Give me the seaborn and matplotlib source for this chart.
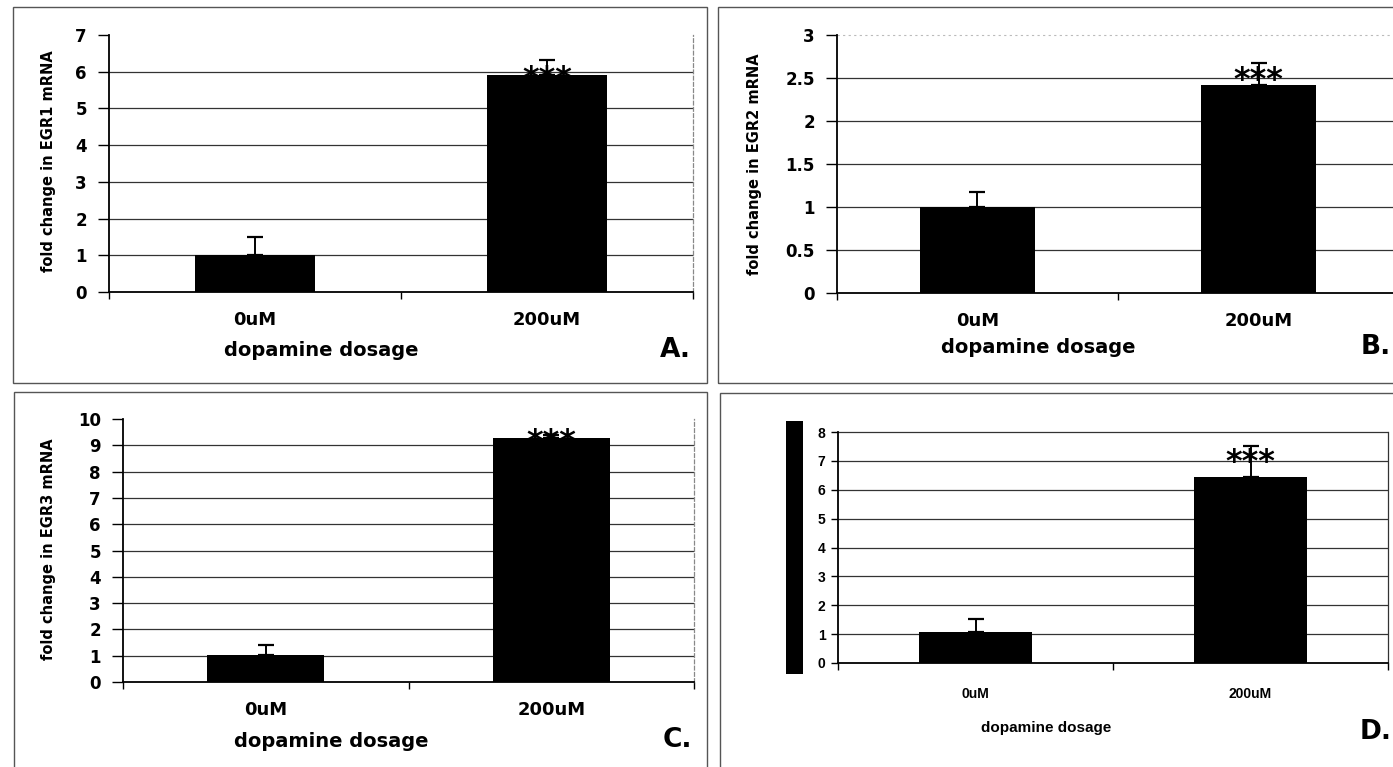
import numpy as np
import pandas as pd
import matplotlib
matplotlib.use("Agg")
import matplotlib.pyplot as plt
import matplotlib.transforms as mtransforms
from matplotlib.patches import Rectangle
import seaborn as sns

# ---------------- data ----------------
categories = ["0uM", "200uM"]

egr1_fold = [1.00, 5.92]
egr1_err = [0.50, 0.40]

egr2_fold = [1.00, 2.42]
egr2_err = [0.17, 0.26]

egr3_fold = [1.04, 9.28]
egr3_err = [0.35, 0.12]

paneld_fold = [1.07, 6.43]
paneld_err = [0.47, 1.10]

egr1_ticks = [0, 1, 2, 3, 4, 5, 6, 7]
egr2_ticks = [0, 0.5, 1, 1.5, 2, 2.5, 3]
egr2_ticklabels = ["0", "0.5", "1", "1.5", "2", "2.5", "3"]
egr3_ticks = [0, 1, 2, 3, 4, 5, 6, 7, 8, 9, 10]
paneld_ticks = [0, 1, 2, 3, 4, 5, 6, 7, 8]

ylabels = ["fold change in EGR1 mRNA", "fold change in EGR2 mRNA",
           "fold change in EGR3 mRNA", ""]
xlabel_text = "dopamine dosage"
signif = "***"
panel_letters = ["A.", "B.", "C.", "D."]

# ---------------- style ----------------
sns.set_theme(style="white")
plt.rcParams["font.family"] = ["DejaVu Sans"]
plt.rcParams["font.weight"] = "bold"

W, H = 1393, 767
fig = plt.figure(figsize=(W / 100, H / 100), dpi=100)


def frac_rect(x0, y0, x1, y1):
    return [x0 / W, 1 - y1 / H, (x1 - x0) / W, (y1 - y0) / H]


def draw_panel(rect, vals, errs, ticks, ticklabels, ylabel, cfg):
    ax = fig.add_axes(frac_rect(*rect))
    df = pd.DataFrame({"dose": categories, "fold": vals})
    sns.barplot(data=df, x="dose", y="fold", color="black", saturation=1,
                width=0.41, errorbar=None, ax=ax, zorder=2,
                edgecolor="black", linewidth=0)
    ax.errorbar(np.arange(len(vals)), vals,
                yerr=[np.zeros(len(errs)), errs], fmt="none",
                ecolor="black", elinewidth=1.4, capsize=cfg["cap"],
                capthick=1.6, zorder=3)
    ax.set_xlim(-0.5, 1.5)
    ax.set_ylim(ticks[0], ticks[-1])
    ax.set_yticks(ticks)
    ax.set_yticklabels(ticklabels)
    # gridlines
    grid_vals = ticks[1:-1] if not cfg["top_grid"] else ticks[1:]
    ax.hlines(grid_vals, -0.5, 1.5, colors="#333333", lw=0.9, zorder=1,
              clip_on=False)
    if cfg.get("faint_top"):
        ax.hlines([ticks[-1]], -0.5, 1.5, colors="#bbbbbb", lw=0.8,
                  linestyles=(0, (2, 3)), zorder=1, clip_on=False)
    for s in ["left", "bottom"]:
        ax.spines[s].set_visible(True)
        ax.spines[s].set_color("black")
        ax.spines[s].set_linewidth(1.3)
    ax.spines["top"].set_visible(False)
    ax.spines["right"].set_visible(True)
    ax.spines["right"].set_color(cfg["right_color"])
    ax.spines["right"].set_linewidth(0.9)
    ax.spines["right"].set_linestyle(cfg["right_ls"])
    ax.tick_params(axis="y", which="major", direction="out", length=cfg["ytl"],
                   width=1, color="black", pad=cfg["ypad"], left=True,
                   labelsize=cfg["yfs"], labelcolor="black")
    ax.tick_params(axis="x", which="major", length=0, pad=cfg["xpad"],
                   labelsize=cfg["xfs"], labelcolor="black")
    ax.set_xticks([-0.5, 0.5, 1.5], minor=True)
    ax.tick_params(axis="x", which="minor", direction="out", length=5,
                   width=1, color="black", bottom=True)
    for lab in ax.get_xticklabels() + ax.get_yticklabels():
        lab.set_fontweight("bold")
        if cfg.get("family"):
            lab.set_family(cfg["family"])
    ax.set_xlabel(xlabel_text, fontsize=cfg["xlfs"], fontweight="bold",
                  color="black", family=cfg.get("family", "DejaVu Sans"))
    ax.xaxis.set_label_coords(*cfg["xl_pos"])
    ax.xaxis.label.set_va("center")
    if ylabel:
        ax.set_ylabel(ylabel, fontsize=cfg["ylfs"], fontweight="bold",
                      color="black")
        ax.yaxis.set_label_coords(*cfg["yl_pos"])
        ax.yaxis.label.set_va("center")
    else:
        ax.set_ylabel("")
    # significance stars
    trans = mtransforms.offset_copy(ax.transData, fig=fig,
                                    x=0, y=cfg["star_off"], units="dots")
    ax.text(1, vals[1], signif, transform=trans, ha="center",
            va="baseline", fontsize=23, fontweight="bold", color="black",
            zorder=4, clip_on=False)
    ax.set_facecolor("white")
    return ax


base = dict(cap=5.5, top_grid=False, right_color="#888888",
            right_ls=(0, (3, 2)), ytl=8, ypad=8, yfs=12, xpad=14, xfs=13,
            xlfs=14, ylfs=10.5)

cfgA = dict(base, xl_pos=(0.363, -0.226), yl_pos=(-0.103, 0.508), star_off=-13)
cfgB = dict(base, xl_pos=(0.358, -0.213), yl_pos=(-0.146, 0.50), star_off=-4,
            faint_top=True)
cfgC = dict(base, xl_pos=(0.364, -0.228), yl_pos=(-0.131, 0.506), star_off=-13)
cfgD = dict(base, top_grid=True, right_color="#333333", right_ls="-",
            ytl=5, ypad=4, yfs=10, xpad=17, xfs=10, xlfs=11,
            xl_pos=(0.378, -0.281), yl_pos=(-0.1, 0.5), star_off=6,
            family="Liberation Sans")

draw_panel((109, 35, 693, 292), egr1_fold, egr1_err, egr1_ticks,
           [str(t) for t in egr1_ticks], ylabels[0], cfgA)
draw_panel((837, 35, 1399, 293), egr2_fold, egr2_err, egr2_ticks,
           egr2_ticklabels, ylabels[1], cfgB)
draw_panel((123, 419, 694, 682), egr3_fold, egr3_err, egr3_ticks,
           [str(t) for t in egr3_ticks], ylabels[2], cfgC)
draw_panel((838, 432, 1388, 663), paneld_fold, paneld_err, paneld_ticks,
           [str(t) for t in paneld_ticks], ylabels[3], cfgD)

# panel frames
for (x0, y0, x1, y1) in [(13, 7, 707, 383), (718, 7, 1405, 383),
                         (14, 392, 707, 780), (720, 393, 1405, 780)]:
    fig.add_artist(Rectangle((x0 / W, 1 - y1 / H), (x1 - x0) / W,
                             (y1 - y0) / H, transform=fig.transFigure,
                             fill=False, edgecolor="#555555", lw=1.0))

# black bar covering panel D's y label
fig.add_artist(Rectangle((786 / W, 1 - 674 / H), 17 / W, 253 / H,
                         transform=fig.transFigure, facecolor="black",
                         edgecolor="black", lw=0))

# panel letters
for letter, (px, py) in zip(panel_letters,
                            [(675, 350), (1376, 347), (677, 740), (1376, 732)]):
    fig.text(px / W, 1 - py / H, letter, ha="center", va="center",
             fontsize=19, fontweight="bold", color="black")

fig.savefig("out.png", dpi=100, facecolor="white")
